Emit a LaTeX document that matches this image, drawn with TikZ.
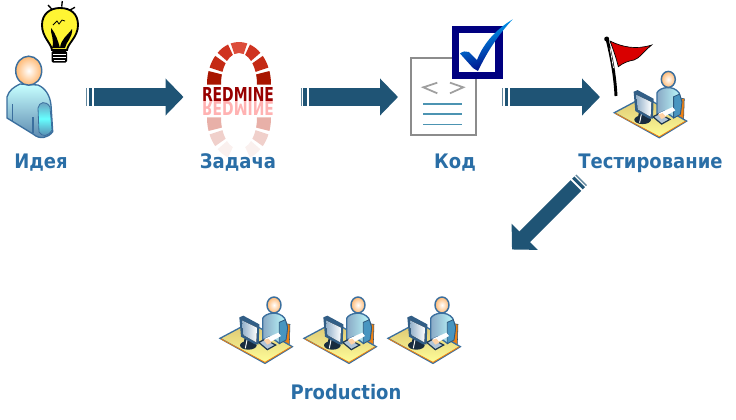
\documentclass[tikz,border=0pt]{standalone}
\usepackage{fontspec}
\setmainfont{DejaVu Sans Condensed}[BoldFont={DejaVu Sans Condensed Bold}]
\usetikzlibrary{arrows.meta,calc}
\definecolor{lbl}{HTML}{2A6EA6}
\definecolor{arr}{HTML}{1F5475}
\definecolor{edge}{HTML}{3B6F9E}
\newcommand{\blockarrow}[3]{% from, to, shaft width in px
  \draw[line width=#3*.75pt,arr,-{Triangle[length=13.5pt 0 0,width=27pt 0 0]}] (#1) -- (#2);
  \draw[line width=#3*.75pt,arr] ($(#1)!5.3*.75pt!180:(#2)$) -- ($(#1)!2*.75pt!180:(#2)$);
  \draw[line width=#3*.75pt,arr!70] ($(#1)!8*.75pt!180:(#2)$) -- ($(#1)!6.7*.75pt!180:(#2)$);
}
\newcommand{\brick}[3]{% t1, t2, opts
  \fill[#3] (239+32*cos #1,84-42*sin #1) arc[start angle=#1,end angle=#2,x radius=32,y radius=-42]
   -- (239+18*cos #2,84-31*sin #2) arc[start angle=#2,end angle=#1,x radius=18,y radius=-31] -- cycle;
}
\newcommand{\brickm}[3]{% mirrored about y=101
  \fill[#3] (239+32*cos #1,118+42*sin #1) arc[start angle=#1,end angle=#2,x radius=32,y radius=42]
   -- (239+18*cos #2,118+31*sin #2) arc[start angle=#2,end angle=#1,x radius=18,y radius=31] -- cycle;
}
\tikzset{
  label text/.style={text=lbl,font=\bfseries\fontsize{15}{18}\selectfont,inner sep=0pt,anchor=base},
  worker/.pic={
    \begin{scope}[x=.25pt,y=-.25pt]
      % chair
      \fill[draw=edge!70!black,line width=.4pt,fill=orange!70!brown] (222,115) -- (240,118) -- (238,178) -- (218,185) -- cycle;
      % desk
      \draw[edge,line width=1pt,top color=orange!45!yellow!60!gray!70!white,bottom color=yellow!40!white]
        (30,160) -- (120,112) -- (247,185) -- (165,235) -- cycle;
      \draw[orange!80!brown,line width=.6pt] (33,162) -- (165,232) -- (244,185);
      % body
      \draw[edge,line width=1pt,left color=edge!60!white,right color=cyan!25!white]
        (158,165) -- (158,100) .. controls (166,83) and (207,76) .. (224,100) -- (232,125) -- (228,160) -- (208,175) -- (180,155) -- cycle;
      % far arm
      \draw[edge!80!black,line width=.6pt,fill=cyan!45!edge] (208,112) -- (226,104) -- (233,128) -- (228,165) -- (208,176) -- cycle;
      % head
      \draw[edge,line width=1.1pt,inner color=white,outer color=orange!55!white] (192,60) ellipse[x radius=21,y radius=24];
      % keyboard
      \draw[edge!50!black,line width=.9pt,fill=edge!40!white] (146,172) -- (165,163) -- (197,180) -- (172,194) -- cycle;
      % sleeve and hand
      \fill[white] (163,162) -- (205,143) -- (213,153) -- (172,176) -- cycle;
      \fill[orange!35!white] (161,165) -- (175,161) -- (185,172) -- (172,179) -- cycle;
      % monitor base
      \fill[edge!40!black] (115,181) ellipse[x radius=25,y radius=13];
      \fill[edge!40!black] (108,140) -- (125,145) -- (130,178) -- (100,178) -- cycle;
      \draw[white,line width=.7pt] (113,155) -- (106,190);
      % monitor
      \fill[edge!85!black] (88,97) -- (100,92) -- (148,118) -- (146,178) -- (135,178) -- (93,155) -- cycle;
      \fill[left color=edge!55!white,right color=white] (96,106) -- (141,128) -- (139,172) -- (100,150) -- cycle;
    \end{scope}
  }
}
\begin{document}
\begin{tikzpicture}[x=.75pt,y=-.75pt]
\useasboundingbox (0,0) rectangle (736,419);
% ---- person
\draw[edge,line width=1pt,top color=cyan!22!white,bottom color=edge!85!white]
  (7,97) .. controls (9,90) and (14,87) .. (20,84) -- (38,85)
  .. controls (45,88) and (50,95) .. (51,105) -- (52.7,131.7) .. controls (48,138) and (40,140) .. (33,134)
  -- (7,118) -- cycle;
\draw[edge,line width=.6pt,top color=edge!75!white,bottom color=edge!85!white,middle color=cyan!60!white]
  (38,108) .. controls (39,102) and (46,100) .. (50,107) -- (52,130) .. controls (48,137) and (42,137) .. (39,132) -- cycle;
\draw[edge,line width=1pt] (12.7,104) -- (12.7,122) (33,117) -- (33,133);
\draw[edge,line width=1.1pt,inner color=white,outer color=orange!55!white] (28.7,70.7) ellipse[x radius=13,y radius=14.5];
% ---- bulb
\draw[black,line width=1.4pt,fill=yellow!80!white]
  (52,50) .. controls (51,43) and (42,37) .. (42,25) .. controls (42,14) and (50,8) .. (60,8)
  .. controls (71,8) and (78,14) .. (78,25) .. controls (78,37) and (68,43) .. (67,50) -- cycle;
\fill[black] (52,48) .. controls (55,40) and (50,33) .. (51,28) .. controls (56,34) and (58,41) .. (60,48) -- cycle;
\fill[black] (60,48) .. controls (61,39) and (67,36) .. (72,29) .. controls (73,37) and (66,42) .. (65,48) -- cycle;
\draw[black,line width=.6pt] (53,25) -- (57,21) -- (59,24) -- (62,20) -- (65,21);
\fill[black,rounded corners=1pt] (51.5,51) rectangle (67,62.5);
\draw[white,line width=.6pt] (53,54) -- (66,54) (53,57) -- (66,57) (54,60) -- (65,60);
\draw[black,line width=1pt] (48,5) -- (51.7,9) (62.3,1) -- (61.7,6.7) (75,7.3) -- (70,10);
% ---- redmine
\begin{scope}
  \foreach \t/\u/\c in {-1/18/A81500,23/42/C42A14,48/70/CF3320,75/105/DC4C3A,110/132/CF3320,138/157/C42A14,162/181/A81500}{
    \definecolor{bk}{HTML}{\c}
    \brick{\t}{\u}{bk}
  }
  \foreach \t/\u/\c in {-1/18/E8B0A8,23/42/F0D0CB,48/70/FAF0EE,110/132/FAF0EE,138/157/F0D0CB,162/181/E8B0A8}{
    \definecolor{bk}{HTML}{\c}
    \brickm{\t}{\u}{bk}
  }
\end{scope}
\node[inner sep=0pt,text=red!55!black!90!red,font=\bfseries] (rm) at (238,94) {\resizebox{54pt}{10.5pt}{REDMINE}};
\node[inner sep=0pt,text=red!30!white,font=\bfseries] (rmr) at (238,108) {\scalebox{1}[-1]{\resizebox{54pt}{10.5pt}{REDMINE}}};
% ---- document
\draw[gray!90,line width=1.5pt,fill=white] (411,57.7) rectangle (476,135);
\draw[gray!75,line width=1.3pt] (437.3,82.7) -- (423.3,87.3) -- (437.3,93.3) (450,82.7) -- (463.3,87.3) -- (450,93.3);
\draw[blue!30!cyan!40!gray,line width=1pt] (423,104) -- (461.7,104) (423,114) -- (461.7,114) (423,124.3) -- (461.7,124.3);
% ---- checkbox
\fill[blue!50!black] (451.7,25.7) rectangle (502.7,79.3);
\fill[white] (459.3,32.7) rectangle (495,71.7);
\shade[bottom color=blue!50!black,top color=cyan!70!blue,shading angle=20]
  (460,53.5) .. controls (463,51) and (466,51) .. (469,52) -- (477,60)
  .. controls (484,42) and (497,29) .. (512.7,19.3)
  .. controls (498,35) and (487,52) .. (478,71) -- (473,68) -- cycle;
% ---- flag
\draw[black,line width=2.2pt] (607,39) .. controls (611,55) and (615,75) .. (616,96);
\fill[black] (606.7,39) circle[radius=2.5];
\draw[white,line width=.5pt] (610,48) -- (613.5,68);
\draw[black,line width=.5pt,fill=red!85!black] (610,41) .. controls (622,47) and (636,50) .. (651.7,45)
  .. controls (643,52) and (640,58) .. (634,60) .. controls (628,61) and (623,63) .. (618.3,66.7)
  .. controls (616,57) and (613,49) .. (610,41) -- cycle;
\pic at (604.3,59.4) {worker};
\pic at (210,285) {worker};
\pic at (294,285) {worker};
\pic at (378,285) {worker};
% ---- arrows
\coordinate (a1) at (94,97);   \coordinate (b1) at (183.5,97);
\coordinate (a2) at (308.7,97);\coordinate (b2) at (398,97);
\coordinate (a3) at (510,97);  \coordinate (b3) at (600,97);
\coordinate (a4) at (576,185.5);\coordinate (b4) at (512,249.5);
\blockarrow{a1}{b1}{18}
\blockarrow{a2}{b2}{18}
\blockarrow{a3}{b3}{18}
\blockarrow{a4}{b4}{15}
% ---- labels
\node[label text] (idea) at (41,168) {Идея};
\node[label text] (task) at (238,168) {Задача};
\node[label text] (code) at (455,168) {Код};
\node[label text] (test) at (650.5,168) {Тестирование};
\node[label text] (prod) at (346,399.5) {Production};
\end{tikzpicture}
\end{document}
